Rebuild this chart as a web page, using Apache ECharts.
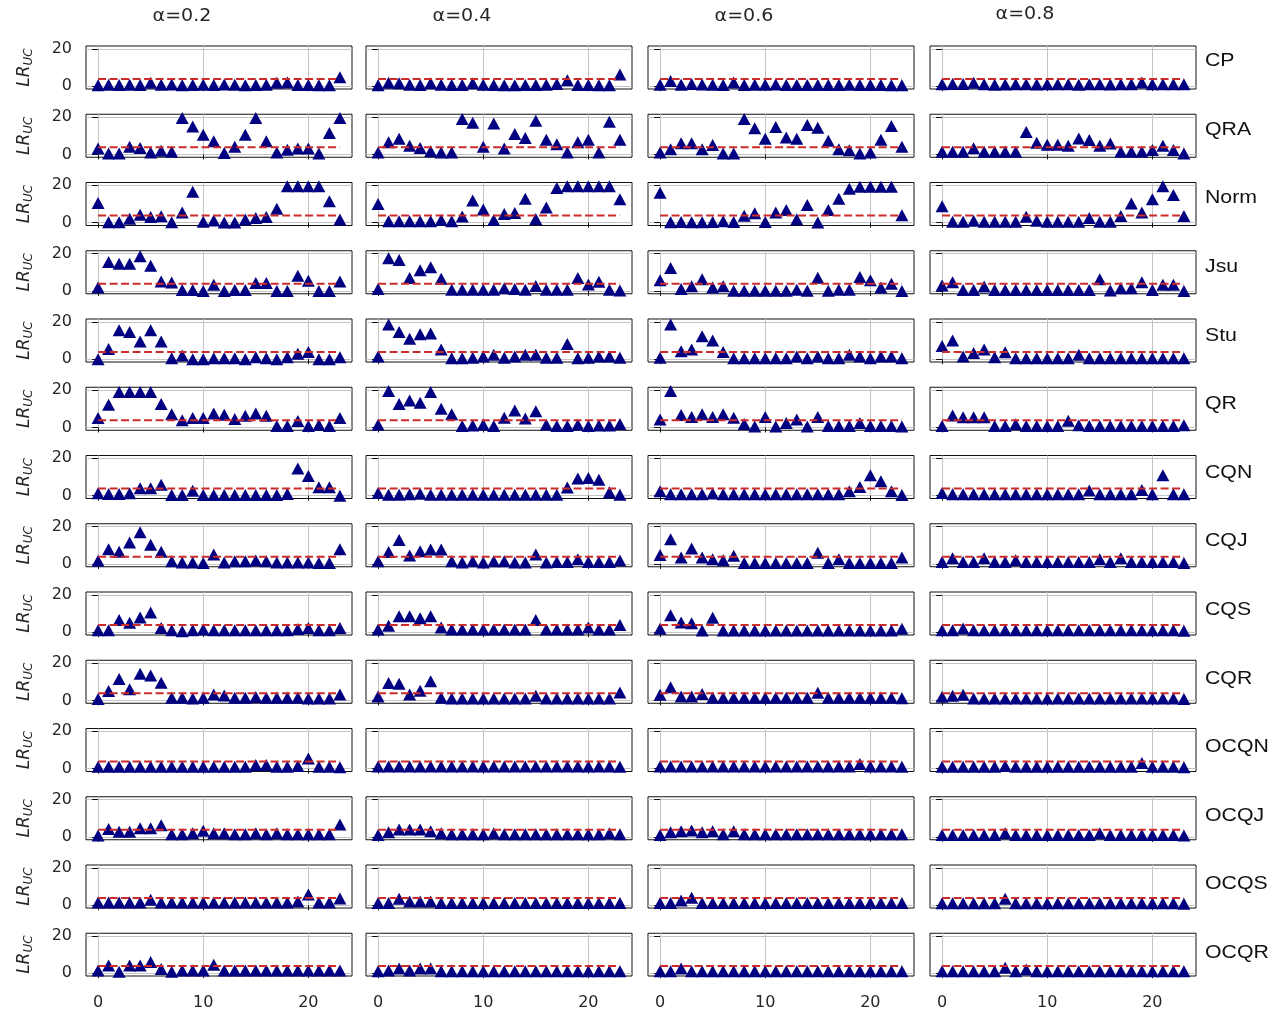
<!DOCTYPE html>
<html>
<head>
<meta charset="utf-8">
<script src="https://cdn.jsdelivr.net/npm/echarts@6/dist/echarts.min.js"></script>
<style>
  html, body { margin: 0; padding: 0; background: #fff; }
  #chart { width: 1279px; height: 1011px; }
</style>
</head>
<body>
<div id="chart"></div>
<script>
// panel labels
var alphas = ['α=0.2', 'α=0.4', 'α=0.6', 'α=0.8'];
var methods = ['CP', 'QRA', 'Norm', 'Jsu', 'Stu', 'QR', 'CQN', 'CQJ', 'CQS', 'CQR', 'OCQN', 'OCQJ', 'OCQS', 'OCQR'];
var xTicks = [0, 10, 20];
var yTicks = [0, 20];
var critical = 3.84; // chi2(1) 95%

// LR_uc per hour (0..23), one list per alpha
var CP = [
  [0.5,0.8,0.6,0.8,0.7,1.8,0.8,0.9,0.5,0.7,0.8,0.6,0.9,0.8,0.5,0.7,0.8,1.8,2,0.6,0.6,0.5,0.5,4.8],
  [0.5,1.8,1.6,0.8,0.7,1.6,0.8,0.7,0.6,1.6,0.8,0.6,0.5,0.5,0.6,0.7,0.8,1.2,3.2,0.6,0.6,0.5,0.5,6.2],
  [0.8,2.8,0.8,1.2,0.9,0.8,0.7,2.0,0.6,0.8,0.8,0.9,0.7,0.6,0.6,0.7,0.7,0.6,0.8,0.7,0.6,0.6,0.5,0.5],
  [1.0,1.2,1.2,1.8,1.0,0.8,0.9,1.0,1.0,0.9,1.0,1.1,1.0,0.8,1.1,1.0,0.9,1.0,1.1,2.0,1.1,1.0,1.0,1.0]
];
var QRA = [
  [3.2,0.5,0.5,4.1,3.5,1,2,1.5,19.5,15,10.5,7,0.8,4.1,10.5,19.5,7,1,2.5,3.2,3.2,0.5,11.5,19.5],
  [1,6.5,8.4,4.7,3.5,1.7,1,1,19,17,4.1,16.5,3.2,11,8.8,18,7.8,5.4,1,6.5,7.8,1,17.5,7.8],
  [1,2.8,6,6,2.8,5,0.5,0.5,19,14,8.4,14.7,9.1,8.4,15.8,14.3,7.3,2.8,2.3,0.5,1,7.8,15.2,4.1],
  [1.4,1.4,1.4,3.3,1.4,1.4,1.4,1.4,12,6.2,5.2,5.2,4.6,8.5,7.7,4.6,5.8,1.4,1.4,1.4,2.4,4.6,2.4,0.5]
];
var Norm = [
  [10.5,0.2,0.2,2.1,4.3,3,3.4,0.2,5.5,16.5,0.5,1.2,0.1,0.1,1.7,2.5,3,7.5,19.5,19.5,19.5,19.5,11.5,1.7],
  [10,0.8,0.8,0.8,0.8,0.8,1.4,0.8,3.3,11.9,7.1,1.4,4.6,5.2,12.8,2,8.1,18.5,19.5,19.5,19.5,19.5,19.5,12.5],
  [16,0.2,0.4,0.2,0.2,0.4,0.8,0.4,3.7,5,0.4,5.5,6.8,1.9,9.5,0.1,6.8,12.8,18.2,19.2,19.2,19.2,19.2,4],
  [8.8,0.5,0.5,1,0.5,0.5,0.5,0.5,3.2,1,0.5,0.5,0.5,0.5,2.5,0.5,0.5,3.6,10.3,5.5,12.5,19.5,14.8,3.6]
];
var Jsu = [
  [1.9,15.5,14.5,14.5,18.5,13.5,5.1,4.5,0.5,0.5,0,3.3,0,0.5,0.5,4.2,4.2,0,0,8.1,5.5,0,0,5.1],
  [1,17.5,16.5,6.9,11.1,12.7,6.5,0.7,0.7,0.7,0.7,0.7,1.5,1,0.7,2.6,0.7,0.7,0.7,6.9,3.4,4.9,0.7,0.2],
  [5.7,12.3,1,2.5,6.3,1.9,2.5,0.1,0.1,0.1,0.1,0.1,0.1,0.6,0.1,7,0.1,0.6,0.6,7.5,5.7,1.9,3.8,0],
  [2.9,4.6,0.5,0.5,2.4,0.5,0.5,0.5,0.5,0.5,0.5,0.5,0.5,0.5,0.5,6.2,0.3,1.4,1.4,4.6,0.5,3.3,3.3,0]
];
var Stu = [
  [0,5.5,15.5,14.5,9.5,15.5,9.5,0.5,2,0,0,0.5,0.5,0.5,0,1,0.5,0,1,2.9,3.9,0,0,1],
  [1.4,18.5,14.5,10.9,13.4,13.8,5.2,0.5,0.5,0.8,1.4,2.4,0.8,1.4,2.4,2.4,0.8,0.8,8.1,0.5,0.8,1.4,1.4,0.8],
  [0.8,18.5,4.3,5.2,12.3,10,3.9,0.5,0.5,0.5,0.5,0.5,0.5,1.4,0.5,1.4,0.5,0.5,2.4,1.4,0.5,1.4,1.4,0.5],
  [7.1,10,1.4,3.3,5.2,1,3.7,0.5,0.5,0.5,0.5,0.5,0.5,2.4,0.5,0.5,0.5,0.5,0.5,0.5,0.5,0.5,0.5,0.5]
];
var QR = [
  [5,12.2,19,19,19,19,12.5,7.1,3.9,5,5,7.5,6.8,4.5,6.2,7.5,6.2,0.8,0.8,3.5,0.8,1.3,0.8,5],
  [1.4,19.5,12.5,14.4,13.2,19,10,7.1,0.8,1,1.4,0.8,5.2,9,4.8,8.6,1.4,0.8,0.8,1.4,0.8,1,1,1.8],
  [4.3,19.5,6.7,5.6,7.1,5.6,7.1,5.2,1.8,0.5,5.6,0.5,2.4,4.3,0.5,5.6,0.8,0.8,0.8,2.4,0.8,0.8,0.8,0.5],
  [0.8,6.4,5.5,5.5,5.5,0.8,0.8,1.7,0.8,0.8,0.8,0.8,3.6,1.2,0.8,0.8,0.8,0.8,0.8,0.8,0.8,0.8,0.8,1.2]
];
var CQN = [
  [1.3,0.9,0.9,1.3,4,4,5.8,0.4,0.4,2.7,0.4,0.4,0.4,0.4,0.4,0.4,0.4,0.4,0.9,14.5,10.5,4.5,4.5,0],
  [1.5,0.5,0.5,0.8,1,0.5,0.5,0.5,0.5,0.5,0.5,0.5,0.5,0.5,0.5,0.5,0.5,0.5,4.4,9.2,9.5,8.5,1.8,0.5],
  [2.4,0.8,0.8,0.8,0.8,1.2,0.8,0.8,0.8,0.8,0.8,0.8,0.8,0.8,0.8,0.8,0.8,0.8,2.4,4.6,10.9,7.7,2.4,0.4],
  [1.5,0.8,0.8,0.8,0.8,0.8,0.8,0.8,0.8,0.8,0.8,0.8,0.8,0.8,2.8,0.8,0.8,0.8,0.8,3,0.8,11,0.8,0.8]
];
var CQJ = [
  [1.7,7.9,6.5,11.5,16.9,10.3,6.5,1.4,0.8,0.8,0.5,5.1,0.8,1.4,1.4,1.9,1.4,0.8,0.8,0.8,0.8,0.5,0.5,7.9],
  [1.5,6.4,12.8,4.5,6.8,7.7,7.7,1.5,0.8,1.5,0.8,1.5,1.5,0.8,0.8,5,0.8,1,1,2.5,1,1,1,1.8],
  [4.8,13.2,3.5,8.3,3.5,2.5,2,4.4,0.5,0.5,0.5,0.5,0.5,0.5,0.5,6,0.5,2.5,0.5,0.5,0.5,0.5,0.5,3.5],
  [1,3,1,1,3,1,1,2,1,1,1,1,1,1,1,2.5,1,3,1,1,1,1,1,0.5]
];
var CQS = [
  [1,1,6.5,5.1,7.9,10.5,2.3,1,0.5,1,1.4,1,1,1,1,1,1,1,1,1.7,2.3,1,1,2.3],
  [1.5,3.5,8.5,8.5,7.5,8.5,2.5,1.5,1.5,1.5,1.5,1.5,1.5,1.5,1.5,6.5,1.5,1.5,1.5,1.5,2.5,1.5,1.5,3.9],
  [1.9,9.1,5.2,4.8,0.9,7.7,0.9,0.9,0.9,0.9,0.9,0.9,0.9,0.9,0.9,0.9,0.9,0.9,0.9,0.9,0.9,0.9,0.9,1.9],
  [1,1,2,1,1,1,1,1,1,1,1,1,1,1,1,1,1,1,1,1,1,1,1,0.8]
];
var CQR = [
  [0.8,5,11.5,6,14.3,13.4,9.5,1.4,1.4,1,1.4,3.2,2.6,1.4,1.4,1.9,1.4,1.4,1.4,1.4,1,1,1,3.2],
  [2.1,9.3,8.9,3.2,5.2,10.3,1.5,1.1,1.1,1.1,1.1,1.1,1.1,1.1,1.1,2.5,1.1,1.1,1.1,1.1,1.1,1.1,1.1,4.2],
  [3.1,7,2.1,2.1,3.5,1.5,1.5,1.5,1.5,1.5,1.5,1.5,1.5,1.5,1.5,4.1,1.5,1.5,1.5,1.5,1.5,1.5,1.5,1.2],
  [2,2.5,3,1,1,1,1,1,1,1,1,1,1,1,1,1,1,1,1,1,1,1,1,0.8]
];
var OCQN = [
  [1,1,1,1,1,1,1,1,1,1,1,1,1,1,1,2,2,1,1,1.5,5.5,1,1,0.8],
  [1.2,1.2,1.2,1.2,1.2,1.2,1.2,1.2,1.2,1.2,1.2,1.2,1.2,1.2,1.2,1.2,1.2,1.2,1.2,1.2,1.2,1.2,1.2,1],
  [1.2,1.2,1.2,1.2,1.2,1.2,1.2,1.2,1.2,1.2,1.2,1.2,1.2,1.2,1.2,1.2,1.2,1.2,1.2,2.5,1.2,1.2,1.2,1],
  [1,1,1,1,1,1,1.5,1,1,1,1,1,1,1,1,1,1,1,1,3,1,1,1,0.8]
];
var OCQJ = [
  [0.8,4.3,2.8,2.8,4.7,4.7,6.2,1.4,1.4,2,3.3,2,2,1.5,1.5,2,1.5,2,1.5,1.5,1.5,1.5,1.5,6.6],
  [1,2.5,4,4,4,3,2,1.5,1.5,1.5,1.5,2,1.5,1.5,1.5,1.5,1.5,1.5,1.5,1.5,1.5,1.5,2,1.5],
  [1,2.5,3,3.5,2.5,3,1.5,3,1.5,1.5,1.5,1.5,1.5,1.5,1.5,1.5,1.5,1.5,1.5,1.5,1.5,1.5,1.5,1.5],
  [1,1,1,1,1,1,2,1,1,1,1,1,1,1,1,2,1,1,1,1,1,1,1,0.8]
];
var OCQS = [
  [1.4,1.4,1.4,1.4,1.4,2.9,1.4,1.4,1.4,1.4,1.4,1.4,1.4,1.4,1.4,1.4,1.4,1.4,1.4,2,5.7,1.4,1.4,3.6],
  [1.2,1.2,3.5,2,2,2,1.2,1.2,1.2,1.2,1.2,1.2,1.2,1.2,1.2,1.2,1.2,1.2,1.2,1.2,1.2,1.2,1.2,1.2],
  [1.2,1.2,2.5,4,1.2,1.2,1.2,1.2,1.2,1.2,1.2,1.2,1.2,1.2,1.2,1.2,1.2,1.2,1.2,1.2,1.2,1.2,1.2,1.2],
  [1,1,1,1,1,1,3.5,1,1,1,1,1,1,1,1,1,1,1,1,1,1,1,1,0.8]
];
var OCQR = [
  [1.4,4.2,0.8,4.2,4.2,6,2.3,0.8,1.4,1.4,1.4,4.5,1.4,1.4,1.4,1.4,1.4,1.4,1.4,1.4,1.4,1.4,1.4,1.4],
  [1,1.5,2.5,1.5,2.5,2.5,1,1,1,1,1,1,1,1,1,1,1,1,1,1,1,1,1,1],
  [1,1,2.5,1,1,1,1,1,1,1,1,1,1,1,1,1,1,1,1,1,1,1,1,1],
  [1,1,1,1,1,1,3,1,2,1,1,1,1,1,1,1,1,1,1,1,1,1,1,1]
];
var results = [CP, QRA, Norm, Jsu, Stu, QR, CQN, CQJ, CQS, CQR, OCQN, OCQJ, OCQS, OCQR];

var chart = echarts.init(document.getElementById('chart'));

var colLeft = [86, 366, 648, 930];
var panelW = 266, panelH = 43, top0 = 46, pitch = 68.25;
var font = 'DejaVu Sans';

var grids = [], xAxes = [], yAxes = [], series = [], graphics = [];

methods.forEach(function (m, r) {
    alphas.forEach(function (a, c) {
        var idx = grids.length;
        var lastRow = r === methods.length - 1;
        var firstCol = c === 0;
        grids.push({
            left: colLeft[c], top: top0 + r * pitch, width: panelW, height: panelH,
            show: true, borderColor: '#111', borderWidth: 1, backgroundColor: '#fff'
        });
        xAxes.push({
            gridIndex: idx, type: 'value', min: -1.15, max: 24.15,
            axisLine: { show: false },
            axisTick: { show: true, customValues: xTicks, length: 5, lineStyle: { color: '#111' } },
            axisLabel: { show: lastRow, customValues: xTicks, fontFamily: font, fontSize: 16, color: '#262626', margin: 19 },
            splitLine: { show: true, lineStyle: { color: '#c4c4c4', width: 1 } }
        });
        yAxes.push({
            gridIndex: idx, type: 'value', min: -1.5, max: 21.5,
            axisLine: { show: false },
            axisTick: { show: true, customValues: yTicks, length: 6, lineStyle: { color: '#111' } },
            axisLabel: { show: firstCol, customValues: yTicks, fontFamily: font, fontSize: 16, color: '#262626', margin: 14 },
            splitLine: { show: true, lineStyle: { color: '#c4c4c4', width: 1 } },
            name: firstCol ? '{a|LR}{b|UC}' : '',
            nameLocation: 'middle', nameRotate: 90, nameGap: 53,
            nameTextStyle: {
                rich: {
                    a: { fontFamily: font, fontStyle: 'italic', fontSize: 17, color: '#262626', lineHeight: 17, verticalAlign: 'top' },
                    b: { fontFamily: font, fontStyle: 'italic', fontSize: 12, color: '#262626', lineHeight: 12, padding: [8, 0, 0, 0] }
                }
            }
        });
        series.push({
            type: 'scatter', xAxisIndex: idx, yAxisIndex: idx,
            symbol: 'triangle', symbolSize: [13, 12],
            itemStyle: { color: '#000080', opacity: 1 },
            data: results[r][c].map(function (v, i) { return [i, v]; }),
            z: 2
        });
        series.push({
            type: 'line', xAxisIndex: idx, yAxisIndex: idx,
            showSymbol: false, symbol: 'none',
            lineStyle: { color: '#cc2b2b', width: 2, type: [8, 3.5] },
            data: [[0, critical], [23, critical]],
            z: 3
        });
    });
    graphics.push({
        type: 'text', x: 1205, y: 61 + r * 68.6, scaleX: 1.12,
        style: { text: m, font: '19px "Liberation Sans"', fill: '#111', align: 'left', verticalAlign: 'middle' }
    });
});

var titleX = [182, 462, 744, 1025];
alphas.forEach(function (a, c) {
    graphics.push({
        type: 'text', x: titleX[c], y: c === 3 ? 15 : 17, scaleX: 1.12,
        style: { text: a, font: '17px "DejaVu Sans"', fill: '#262626', align: 'center', verticalAlign: 'middle' }
    });
});

var option = {
    backgroundColor: '#fff',
    animation: false,
    grid: grids,
    xAxis: xAxes,
    yAxis: yAxes,
    series: series,
    graphic: graphics
};
chart.setOption(option);
</script>
</body>
</html>
